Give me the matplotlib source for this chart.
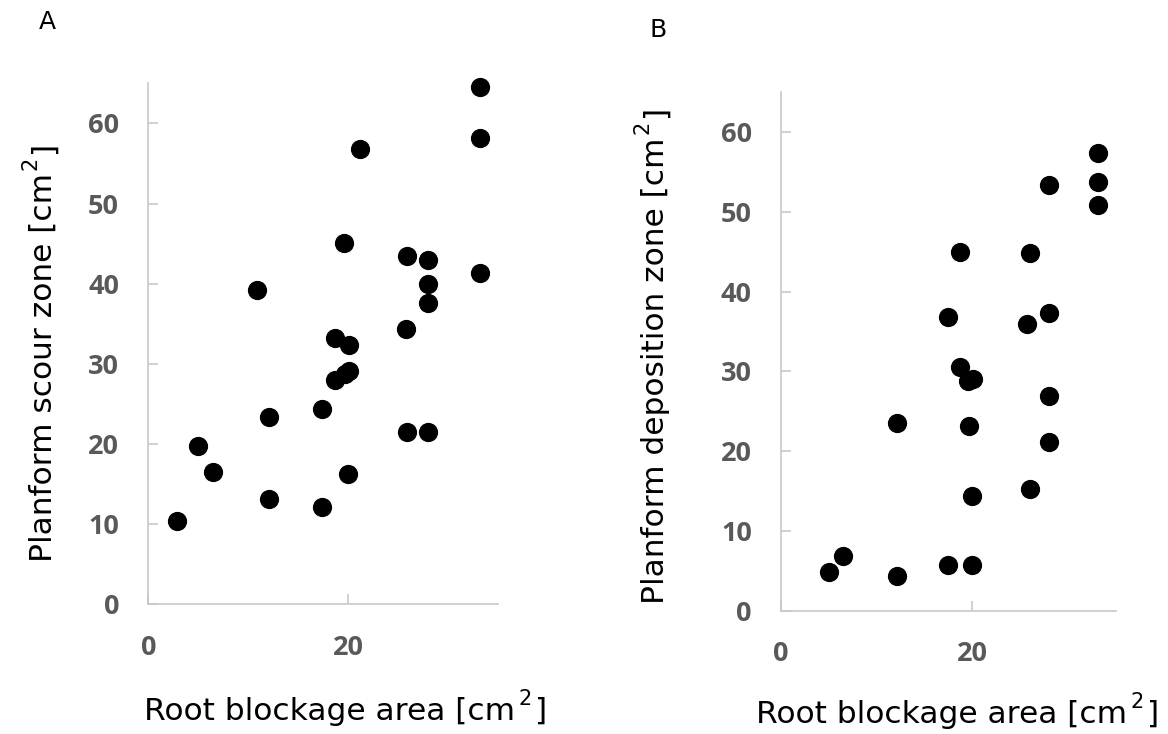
import matplotlib
matplotlib.use('Agg')
import matplotlib.pyplot as plt
from matplotlib.text import Annotation

# panel A: root blockage area vs planform scour zone
scour_x = [33.2, 33.2, 21.2, 19.6, 25.9, 28.0, 28.0, 33.2, 28.0, 10.9, 25.8, 18.7, 20.1,
           18.7, 19.7, 20.1, 17.4, 12.1, 25.9, 28.0, 5.0, 6.5, 20.0, 12.1, 17.4, 2.9]
scour_y = [64.5, 58.2, 56.8, 45.1, 43.5, 42.9, 40.0, 41.3, 37.6, 39.2, 34.4, 33.2, 32.4,
           28.0, 28.7, 29.1, 24.4, 23.4, 21.5, 21.5, 19.7, 16.5, 16.3, 13.1, 12.1, 10.4]

# panel B: root blockage area vs planform deposition zone
depo_x = [33.1, 33.1, 33.1, 28.0, 18.7, 26.0, 17.4, 28.0, 25.7, 18.7, 19.5, 20.1,
          12.1, 19.6, 28.0, 28.0, 20.0, 26.0, 5.0, 6.5, 12.1, 17.4, 20.0]
depo_y = [57.4, 53.7, 50.8, 53.4, 45.0, 44.8, 36.8, 37.3, 35.9, 30.6, 28.8, 29.0,
          23.5, 23.1, 26.9, 21.1, 14.4, 15.3, 4.9, 6.8, 4.3, 5.7, 5.7]

x_ticks = [0, 20]
y_ticks = [0, 10, 20, 30, 40, 50, 60]

AXIS_GREY = '#c8c8c8'
TICK_GREY = '#595959'
W, H = 1168, 734
LABEL_SIZE = 22.5
SUP_SIZE = 15
FONT = dict(family='DejaVu Sans', color='black')


def style_axes(ax):
    ax.set_xlim(0, 35)
    ax.set_ylim(0, 65)
    ax.set_xticks(x_ticks)
    ax.set_yticks(y_ticks)
    for side in ['top', 'right']:
        ax.spines[side].set_visible(False)
    for side in ['left', 'bottom']:
        ax.spines[side].set_color(AXIS_GREY)
        ax.spines[side].set_linewidth(1.2)
    ax.tick_params(direction='in', length=7, width=1.2, color=AXIS_GREY,
                   labelcolor=TICK_GREY, labelsize=19.5)
    ax.tick_params(axis='x', pad=22)
    ax.tick_params(axis='y', pad=21)
    for lab in ax.get_xticklabels() + ax.get_yticklabels():
        lab.set_fontfamily('Open Sans')
        lab.set_fontweight('bold')


def px_box(left, top, right, bottom):
    return [left / W, 1 - bottom / H, (right - left) / W, (bottom - top) / H]


def unit_title(fig, text, x, y, vertical=False):
    # text + raised "2" + closing bracket, like the Excel superscript
    # x, y: start of the baseline, in pixels from the top-left corner
    base_y = H - y
    if not vertical:
        t1 = fig.text(x / W, base_y / H, text, ha='left', va='baseline',
                      size=LABEL_SIZE, **FONT)
        t2 = fig.add_artist(Annotation(
            '2', xy=(1, 1), xycoords=t1, xytext=(2.5, 6), textcoords='offset points',
            ha='left', va='top', size=SUP_SIZE, **FONT))
        fig.add_artist(Annotation(
            ']', xy=(1, base_y), xycoords=(t2, 'figure pixels'), xytext=(2.5, 0),
            textcoords='offset points', ha='left', va='baseline', size=LABEL_SIZE, **FONT))
    else:
        t1 = fig.text(x / W, base_y / H, text, rotation=90, rotation_mode='anchor',
                      ha='left', va='baseline', size=LABEL_SIZE, **FONT)
        t2 = fig.add_artist(Annotation(
            '2', xy=(0, 1), xycoords=t1, xytext=(-6, 2.5), textcoords='offset points',
            rotation=90, ha='left', va='bottom', size=SUP_SIZE, **FONT))
        fig.add_artist(Annotation(
            ']', xy=(x, 1), xycoords=('figure pixels', t2), xytext=(0, 2.5),
            textcoords='offset points', rotation=90, rotation_mode='anchor',
            ha='left', va='baseline', size=LABEL_SIZE, **FONT))


fig = plt.figure(figsize=(W / 100, H / 100), dpi=100)
ax_a = fig.add_axes(px_box(148.3, 83.3, 498, 604.3))
ax_b = fig.add_axes(px_box(781, 92, 1116, 610.7))

ax_a.scatter(scour_x, scour_y, s=165, color='black', zorder=3, clip_on=False)
ax_b.scatter(depo_x, depo_y, s=165, color='black', zorder=3, clip_on=False)
style_axes(ax_a)
style_axes(ax_b)

unit_title(fig, 'Root blockage area [cm', 144, 720)
unit_title(fig, 'Root blockage area [cm', 756, 723)
unit_title(fig, 'Planform scour zone [cm', 52, 562, vertical=True)
unit_title(fig, 'Planform deposition zone [cm', 664, 604, vertical=True)

fig.text(47 / W, 1 - 22 / H, 'A', ha='center', va='center', size=18, **FONT)
fig.text(658 / W, 1 - 30 / H, 'B', ha='center', va='center', size=18, **FONT)

fig.savefig('out.png', dpi=100)
